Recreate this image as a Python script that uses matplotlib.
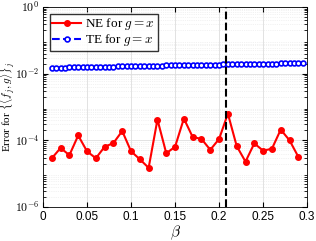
import numpy as np
import matplotlib
matplotlib.use("Agg")
import matplotlib.pyplot as plt

plt.rcParams['font.family'] = ['Liberation Serif', 'DejaVu Serif']
plt.rcParams['mathtext.fontset'] = 'cm'

# NE errors, beta = 0.01 ... 0.29
beta_ne = [0.01, 0.02, 0.03, 0.04, 0.05, 0.06, 0.07, 0.08, 0.09, 0.10,
           0.11, 0.12, 0.13, 0.14, 0.15, 0.16, 0.17, 0.18, 0.19, 0.20,
           0.21, 0.22, 0.23, 0.24, 0.25, 0.26, 0.27, 0.28, 0.29]
err_ne = [2.9e-5, 5.9e-5, 3.6e-5, 1.4e-4, 4.7e-5, 2.9e-5, 6.4e-5, 8.3e-5, 1.9e-4, 4.7e-5,
          2.7e-5, 1.5e-5, 4.2e-4, 4.1e-5, 6.4e-5, 4.5e-4, 1.26e-4, 1.1e-4, 5.2e-5, 1.1e-4,
          6.3e-4, 6.7e-5, 2.3e-5, 8.1e-5, 4.9e-5, 5.6e-5, 2.1e-4, 1.0e-4, 3.2e-5]

# TE errors, beta = 0.01 ... 0.295 (step 0.005)
beta_te = [0.010, 0.015, 0.020, 0.025, 0.030, 0.035, 0.040, 0.045, 0.050, 0.055,
           0.060, 0.065, 0.070, 0.075, 0.080, 0.085, 0.090, 0.095, 0.100, 0.105,
           0.110, 0.115, 0.120, 0.125, 0.130, 0.135, 0.140, 0.145, 0.150, 0.155,
           0.160, 0.165, 0.170, 0.175, 0.180, 0.185, 0.190, 0.195, 0.200, 0.205,
           0.210, 0.215, 0.220, 0.225, 0.230, 0.235, 0.240, 0.245, 0.250, 0.255,
           0.260, 0.265, 0.270, 0.275, 0.280, 0.285, 0.290, 0.295]
err_te = [0.0150, 0.0151, 0.0152, 0.0153, 0.0154, 0.0155, 0.0156, 0.0157, 0.0158, 0.0159,
          0.0160, 0.0161, 0.0162, 0.0163, 0.0164, 0.0165, 0.0166, 0.0167, 0.0168, 0.0169,
          0.0170, 0.0171, 0.0172, 0.0173, 0.0174, 0.0175, 0.0176, 0.0177, 0.0178, 0.0179,
          0.0180, 0.0181, 0.0182, 0.0183, 0.0184, 0.0185, 0.0186, 0.0187, 0.0188, 0.0189,
          0.0190, 0.0191, 0.0192, 0.0193, 0.0194, 0.0195, 0.0196, 0.0197, 0.0198, 0.0199,
          0.0200, 0.0201, 0.0202, 0.0203, 0.0204, 0.0205, 0.0206, 0.0207]

xticks = [0, 0.05, 0.1, 0.15, 0.2, 0.25, 0.3]
xticklabels = ['0', '0.05', '0.1', '0.15', '0.2', '0.25', '0.3']
yticks = [1e-6, 1e-4, 1e-2, 1]
yticklabels = [r'$\mathsf{10^{-6}}$', r'$\mathsf{10^{-4}}$', r'$\mathsf{10^{-2}}$', r'$\mathsf{10^{0}}$']

beta_mark = 0.2083

fig = plt.figure(figsize=(3.16, 2.41), dpi=100)
ax = fig.add_axes([0.136, 0.141, 0.836, 0.83])

ax.plot(beta_ne, err_ne, '-o', color='red', lw=1.5, ms=4, label=r'NE for $g = x$')
ax.plot(beta_te, err_te, '--o', color='blue', lw=1.5, ms=3.5, mfc='white', mew=1.2,
        label=r'TE for $g = x$')
ax.axvline(beta_mark, color='black', ls='--', lw=1.5)

ax.set_yscale('log')
ax.set_xlim(0, 0.3)
ax.set_ylim(1e-6, 1)
ax.set_xticks(xticks)
ax.set_xticklabels(xticklabels, fontfamily='Liberation Sans', fontsize=8.5)
ax.set_yticks(yticks)
ax.set_yticklabels(yticklabels, fontsize=8.5)
ax.grid(True, which='major', color='#dddddd', lw=0.6)
ax.grid(True, which='minor', color='#e6e6e6', lw=0.5, ls=':')
ax.tick_params(direction='in', which='both', top=True, right=True, pad=3)
ax.tick_params(axis='y', pad=2.5)
ax.set_xlabel(r'$\beta$', fontsize=11)
ax.xaxis.set_label_coords(0.5, -0.085)
ax.set_ylabel(r'Error for $\{\langle f_j, g\rangle\}_j$', fontsize=8)
ax.yaxis.set_label_coords(-0.098, 0.5)
ax.legend(loc='upper left', fontsize=9.5, fancybox=False, edgecolor='black',
          borderpad=0.2, handlelength=2.2, handletextpad=0.3, labelspacing=0.0,
          borderaxespad=0.5)
for s in ax.spines.values():
    s.set_linewidth(0.6)

fig.savefig('out.png', dpi=100)
